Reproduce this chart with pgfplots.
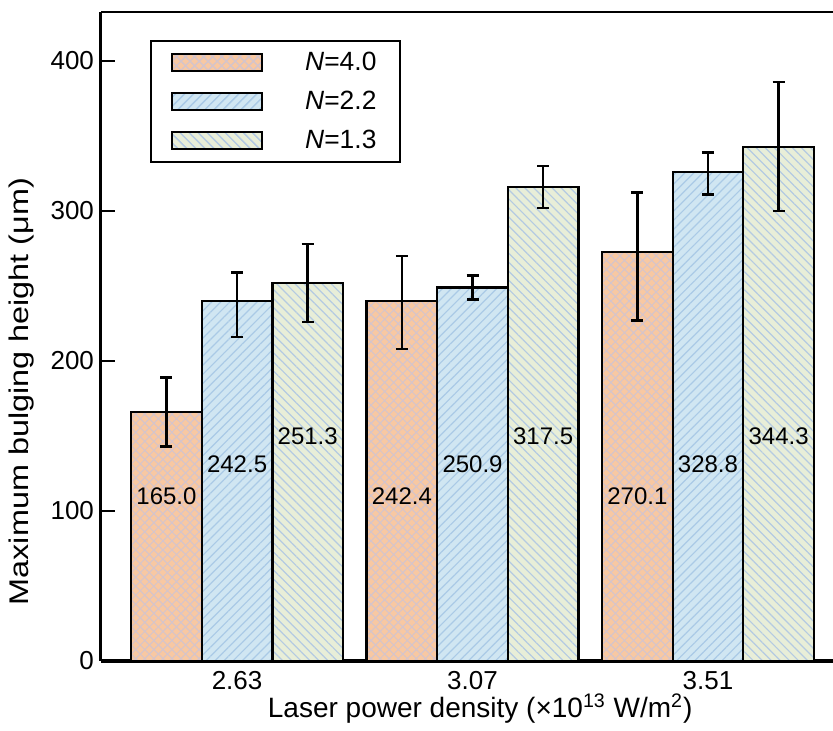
\documentclass[border=0pt]{standalone}
\usepackage{fontspec}
\setmainfont{Liberation Sans}
\newfontfamily\ylabfont[FakeStretch=1.2]{Liberation Sans}
\usepackage{pgfplots}
\pgfplotsset{compat=1.18}
\usetikzlibrary{patterns.meta}
\definecolor{orfill}{RGB}{248,200,162}
\definecolor{orline}{RGB}{212,196,204}
\definecolor{blfill}{RGB}{208,230,242}
\definecolor{blline}{RGB}{170,202,230}
\definecolor{grfill}{RGB}{232,238,216}
\definecolor{grline}{RGB}{180,202,226}
\pgfplotsset{
  errplot/.style={draw=none, mark=none, forget plot,
    error bars/.cd, y dir=both, y explicit,
    error bar style={line width=1.25pt, draw=black, solid},
    error mark options={rotate=90, line width=1.25pt, mark size=3pt, draw=black, solid}},
  lblplot/.style={draw=none, mark=none, forget plot, nodes near coords,
    point meta=explicit symbolic, nodes near coords align=center,
    every node near coord/.style={font=\fontsize{12}{14}\selectfont, anchor=center, black}},
}
\begin{document}
\begin{tikzpicture}
\begin{axis}[
  scale only axis, width=366pt, height=324.5pt,
  xmin=-0.578, xmax=2.531, ymin=0, ymax=432.7,
  axis x line*=bottom, axis y line*=left,
  x axis line style={line width=2pt, -},
  y axis line style={line width=1.5pt, -},
  xtick={0,1,2}, xticklabels={2.63,3.07,3.51},
  ytick={0,100,200,300,400},
  x tick style={draw=none},
  y tick style={line width=1.2pt, black},
  tick align=inside, major tick length=7pt,
  tick label style={font=\fontsize{13}{15}\selectfont},
  xticklabel style={yshift=-1.5pt},
  /pgf/number format/assume math mode=true,
  xlabel={Laser power density (×10\textsuperscript{13} W/m\textsuperscript{2})},
  ylabel={Maximum bulging height (μm)},
  xlabel style={font=\fontsize{14}{16}\selectfont, at={(rel axis cs:0.518,0)}, anchor=base, inner sep=0pt, yshift=-28.5pt},
  ylabel style={font=\ylabfont\fontsize{13.5}{15}\selectfont, at={(rel axis cs:0,0.415)}, anchor=center, inner sep=0pt, yshift=39.5pt},
  legend style={at={(rel axis cs:0.067,0.957)}, anchor=north west,
    draw=black, line width=1pt, font=\fontsize{13.2}{15}\selectfont,
    inner xsep=10pt, inner ysep=3.5pt, row sep=4.75pt,
    cells={anchor=west}},
  legend cell align=left,
]
\addplot[ybar, bar width=0.3, bar shift=-0.3, draw=black, line width=1.1pt,
  fill=orfill, postaction={pattern={Hatch[angle=45,distance=3.2pt,line width=0.5pt]}, pattern color=orline},
  legend image code/.code={\draw[draw=black,line width=1.1pt,fill=orfill,postaction={pattern={Hatch[angle=45,distance=3.2pt,line width=0.5pt]}, pattern color=orline}] (0pt,-4.25pt) rectangle (45pt,4.25pt); \path (64pt,0pt);}]
coordinates {(0,166) (1,240) (2,272.5)};
\addlegendentry{\textit{N}=4.0}
\addplot[ybar, bar width=0.3, bar shift=0, draw=black, line width=1.1pt,
  fill=blfill, postaction={pattern={Lines[angle=45,distance=3.2pt,line width=0.6pt]}, pattern color=blline},
  legend image code/.code={\draw[draw=black,line width=1.1pt,fill=blfill,postaction={pattern={Lines[angle=45,distance=3.2pt,line width=0.6pt]}, pattern color=blline}] (0pt,-4.25pt) rectangle (45pt,4.25pt); \path (64pt,0pt);}]
coordinates {(0,240) (1,249) (2,326)};
\addlegendentry{\textit{N}=2.2}
\addplot[ybar, bar width=0.3, bar shift=0.3, draw=black, line width=1.1pt,
  fill=grfill, postaction={pattern={Lines[angle=-45,distance=3.2pt,line width=0.6pt]}, pattern color=grline},
  legend image code/.code={\draw[draw=black,line width=1.1pt,fill=grfill,postaction={pattern={Lines[angle=-45,distance=3.2pt,line width=0.6pt]}, pattern color=grline}] (0pt,-4.25pt) rectangle (45pt,4.25pt); \path (64pt,0pt);}]
coordinates {(0,252) (1,316) (2,342.5)};
\addlegendentry{\textit{N}=1.3}
% error bars
\addplot[errplot] coordinates {
  (-0.3,166) += (0,23) -= (0,23)
  (0.7,240) += (0,30) -= (0,32)
  (1.7,272.5) += (0,40) -= (0,45.5)
};
\addplot[errplot] coordinates {
  (0,240) += (0,19) -= (0,24)
  (1,249) += (0,8) -= (0,8)
  (2,326) += (0,13) -= (0,15)
};
\addplot[errplot] coordinates {
  (0.3,252) += (0,26) -= (0,26)
  (1.3,316) += (0,14) -= (0,14)
  (2.3,342.5) += (0,43.5) -= (0,42.5)
};
% value labels
\addplot[lblplot] coordinates {(-0.3,110)[165.0] (0.7,110)[242.4] (1.7,110)[270.1]};
\addplot[lblplot] coordinates {(0,131)[242.5] (1,131)[250.9] (2,131)[328.8]};
\addplot[lblplot] coordinates {(0.3,150)[251.3] (1.3,150)[317.5] (2.3,150)[344.3]};
\draw[line width=1.5pt] (rel axis cs:0,1) -- (rel axis cs:1,1);
\coordinate (O) at (rel axis cs:0,0);
\coordinate (TR) at (rel axis cs:1,1);
\end{axis}
\pgfresetboundingbox
\path[use as bounding box] ([xshift=-50.5pt,yshift=-35pt]O) rectangle ([yshift=6pt]TR);
\end{tikzpicture}
\end{document}
